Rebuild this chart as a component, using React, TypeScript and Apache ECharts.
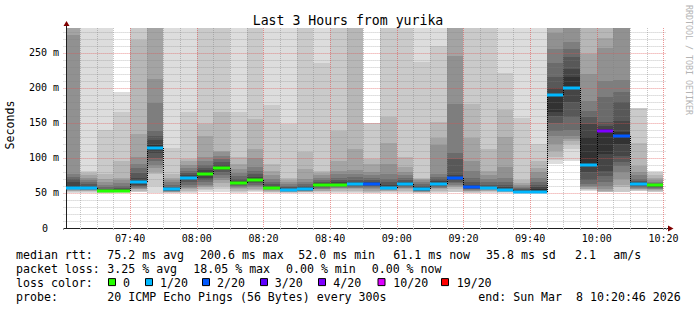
import React, { useEffect, useRef } from 'react';
import * as echarts from 'echarts';

// ---------- data ----------
const TITLE = 'Last 3 Hours from yurika';
const AXIS_START = '07:20';
const VIEW_START = '07:20:46';
const VIEW_END = '10:20:46';
const BIN_MINUTES = 5;
const BIN_TIMES = [
  '07:20', '07:25', '07:30', '07:35', '07:40', '07:45', '07:50', '07:55',
  '08:00', '08:05', '08:10', '08:15', '08:20', '08:25', '08:30', '08:35',
  '08:40', '08:45', '08:50', '08:55', '09:00', '09:05', '09:10', '09:15',
  '09:20', '09:25', '09:30', '09:35', '09:40', '09:45', '09:50', '09:55',
  '10:00', '10:05', '10:10', '10:15',
];
// 20 sorted ping rtts per bin (ms); null = lost ping
const PINGS: (number | null)[][] = [
  [50.5, 51.5, 52.5, 53.5, 54.5, 55.5, 56, 56.5, 57, 57.5, 60, 65, 70, 73, 77, 276, 300, 300, 300, 300],
  [50.5, 51.5, 52.5, 53.5, 54, 54.5, 55, 55.5, 56, 56.5, 57.5, 60, 63, 66, 69, 72, 75, 78, 81, 300],
  [50, 50.5, 50.8, 51, 51.3, 51.6, 51.8, 52, 52.2, 52.5, 53, 54, 56, 58, 61, 65, 70, 77, 140, 300],
  [50.5, 51, 51.5, 52, 52.3, 52.6, 52.8, 53, 53.2, 53.5, 54, 55, 57, 60, 64, 68, 72, 96, 165, 194],
  [51, 52, 53, 55, 56, 57, 58, 60, 62, 64, 67, 72, 78, 85, 92, 101, 134, 268, 300, 300],
  [50, 60, 77, 80, 85, 90, 95, 100, 107, 112, 118, 125, 132, 139, 178, 213, 300, 300, 300, 300],
  [50, 50.5, 51, 51.5, 52, 52.5, 53, 53.5, 54, 54.5, 55.5, 57, 59, 62, 65, 68, 72, 77, 114, 300],
  [50.5, 51.5, 53, 55, 57, 59, 62, 65, 68, 70, 72, 75, 78, 82, 86, 90, 95, 98, 165, 300],
  [51, 54, 56, 58, 60, 62, 65, 68, 72, 76, 80, 83, 86, 90, 95, 101, 132, 148, 300, 300],
  [51, 56, 60, 64, 68, 72, 76, 80, 83, 85, 87, 90, 94, 98, 103, 108, 110, 165, 300, 300],
  [50.5, 51.5, 53, 55, 57, 58.5, 60, 61.5, 62.5, 63.5, 64.5, 67, 70, 74, 78, 84, 92, 101, 165, 300],
  [51, 52.5, 54, 56, 58, 60, 62, 64, 66, 68, 70, 73, 77, 82, 87, 100, 113, 155, 300, 300],
  [50.5, 51, 52, 53, 54, 55, 55.5, 56, 56.5, 57, 58, 60, 63, 66, 70, 75, 82, 91, 176, 300],
  [50, 50.5, 51, 51.5, 52, 52.5, 53, 53.5, 54, 54.5, 55, 56, 58, 60, 63, 66, 69, 72, 148, 300],
  [50.5, 51, 51.5, 52, 52.5, 53, 53.5, 54, 54.5, 55, 56, 58, 60, 63, 66, 70, 84, 109, 300, 300],
  [50.5, 51.5, 52.5, 53.5, 55, 56, 57, 58.5, 60, 61, 62, 64, 66, 69, 72, 76, 79, 82, 235, 300],
  [50.5, 52, 53.5, 55, 56.5, 57.5, 58.5, 59.5, 60.5, 61.5, 63, 65, 68, 72, 77, 82, 96, 138, 300, 300],
  [50.5, 52, 53.5, 55, 56.5, 57.5, 58.5, 59.5, 61, 62, 64, 66, 69, 73, 77, 83, 113, 300, 300, 300],
  [null, 50.5, 52, 53.5, 55, 56.5, 58, 59.5, 61, 62, 64, 66, 68, 71, 75, 80, 91, 99, 150, null],
  [50.5, 51.5, 52.5, 53.5, 54.5, 55, 55.5, 56, 56.5, 57, 58, 61, 65, 70, 77, 92, 121, 159, 300, 300],
  [50.5, 52, 53.5, 55, 56.5, 57.5, 58.5, 59.5, 61, 62, 64, 66, 69, 72, 76, 80, 87, 101, 300, 300],
  [50, 50.5, 51, 51.5, 52, 52.5, 53, 53.5, 54, 55, 56.5, 58, 60, 63, 66, 68, 70, 72, 237, 300],
  [50.5, 52, 53.5, 55, 56.5, 57.5, 58.5, 60, 61, 62, 64, 67, 70, 73, 77, 119, 129, 151, 260, 300],
  [null, 52, 55, 58, 60, 62, 64, 66, 68, 71, 73, 75, 99, 107, 177, 245, 300, 300, 300, null],
  [null, 50.5, 51.5, 52.5, 53.5, 54.5, 55.5, 56, 57, 57.5, 59, 62, 66, 72, 82, 96, 129, 177, 300, null],
  [50.5, 51.5, 52.5, 53.5, 54.5, 55.5, 56, 56.5, 57, 57.5, 58.5, 60, 62, 66, 70, 75, 82, 113, 300, 300],
  [50.5, 51, 51.5, 52, 52.5, 53, 53.5, 54, 54.5, 55, 56, 58, 61, 65, 72, 87, 130, 168, 221, 300],
  [50, 50.5, 51, 51.3, 51.6, 51.8, 52, 52.2, 52.5, 52.8, 53.2, 54, 55, 57, 59, 61, 64, 68, 157, 300],
  [50, 50.3, 50.6, 51, 51.3, 51.6, 51.8, 52, 52.2, 52.5, 55, 58, 62, 66, 72, 80, 86, 96, 120, 300],
  [92, 97, 101, 110, 120, 132, 139, 150, 160, 165, 192, 200, 215, 235, 256, 278, 300, 300, 300, 300],
  [95, 113, 120, 124, 127, 132, 140, 158, 180, 201, 215, 227, 244, 255, 265, 300, 300, 300, 300, 300],
  [53, 54, 55, 56, 58, 60, 63, 68, 80, 89, 130, 148, 158, 167, 182, 220, 249, 300, 300, 300],
  [null, null, 51, 53, 56, 60, 65, 74, 82, 106, 141, 145, 151, 187, 210, 257, 272, 300, null, null],
  [null, 51, 58, 62, 70, 80, 88, 94, 103, 120, 137, 153, 180, 194, 211, 300, 300, 300, 300, null],
  [51, 53, 54, 55, 56, 57, 58.5, 60, 61, 62.5, 64, 65, 67, 70, 75, 80, 89, 122, 171, null],
  [51, 52, 53, 54, 55, 56, 57, 58, 59, 60, 61, 62, 63, 64.5, 66, 68, 71, 75, 78, 82],
];
const MEDIAN = [
  56.7, 56.7, 52.3, 53, 65, 114, 55, 71, 77.6, 85.7, 64, 69, 57, 54.5, 55, 61,
  62, 63, 63, 56.7, 63, 55.7, 63, 72, 58, 57.6, 54.8, 52, 52, 190, 200.6, 90,
  139, 131, 63, 61.1,
];
const LOSS = [
  1, 1, 0, 0, 1, 1, 1, 1, 0, 0, 0, 0, 0, 1, 1, 0,
  0, 1, 2, 1, 1, 1, 1, 2, 2, 1, 1, 1, 1, 1, 1, 1,
  4, 2, 1, 0,
];
const LOSS_LEVELS = [0, 1, 2, 3, 4, 10, 19];
const LOSS_COLORS = ['#26ff00', '#00b8ff', '#0059ff', '#5e00ff', '#7e00ff', '#dd00ff', '#ff0000'];
const LOSS_LABELS = ['0', '1/20', '2/20', '3/20', '4/20', '10/20', '19/20'];
const Y_MAX = 285.7;
const Y_INTERVAL = 50;

const RTT_STATS = ['median rtt:', '75.2 ms avg', '200.6 ms max', '52.0 ms min', '61.1 ms now', '35.8 ms sd', '2.1', 'am/s'];
const LOSS_STATS = ['packet loss:', '3.25 % avg', '18.05 % max', '0.00 % min', '0.00 % now'];
const PROBE_TEXT = ['probe:', '20 ICMP Echo Pings (56 Bytes) every 300s', 'end: Sun Mar  8 10:20:46 2026'];
const WATERMARK = 'RRDTOOL / TOBI OETIKER';

// ---------- layout ----------
const FONT = 'DejaVu Sans Mono';
const PLOT_LEFT = 66;
const PLOT_RIGHT = 666;
const PLOT_TOP = 28;
const PLOT_BOTTOM = 228;

const toMin = (s: string) => {
  const [h, m, sec] = s.split(':').map(Number);
  return h * 60 + m + (sec || 0) / 60;
};
const pad = (n: number) => String(n).padStart(2, '0');
const smokeGray = (ibot: number) => {
  const v = Math.floor((190 / 10) * (10 - ibot)) + 50;
  const h = v.toString(16).padStart(2, '0');
  return '#' + h + h + h;
};
const lossColor = (l: number) => {
  let c = LOSS_COLORS[0];
  LOSS_LEVELS.forEach((lv, i) => { if (l >= lv) c = LOSS_COLORS[i]; });
  return c;
};

export default function App() {
  const ref = useRef<HTMLDivElement>(null);
  useEffect(() => {
    document.body.style.margin = '0';
    const chart = echarts.init(ref.current!, null, { renderer: 'svg' });
    const axisStart = toMin(AXIS_START);
    const viewStart = toMin(VIEW_START);
    const viewEnd = toMin(VIEW_END);
    const pxPerMin = (PLOT_RIGHT - PLOT_LEFT) / (viewEnd - viewStart);
    const gridLeft = PLOT_LEFT - (viewStart - axisStart) * pxPerMin;

    const binData = BIN_TIMES.map((t, i) => [toMin(t), MEDIAN[i]]);

    const clipFor = (params: any, api: any) => {
      const cs = params.coordSys;
      const left = Math.max(cs.x, api.coord([viewStart, 0])[0]);
      return { x: left, y: cs.y, width: cs.x + cs.width - left, height: cs.height };
    };

    const smokeItem = (params: any, api: any) => {
      const i = params.dataIndex;
      const p = PINGS[i];
      const t0 = toMin(BIN_TIMES[i]);
      const t1 = t0 + BIN_MINUTES;
      const clip = clipFor(params, api);
      const children: any[] = [];
      for (let ib = 1; ib <= 10; ib++) {
        const lo = p[ib - 1];
        const hi = p[20 - ib];
        if (lo == null || hi == null) continue;
        const a = api.coord([t0, hi]);
        const b = api.coord([t1, lo]);
        const x0 = Math.round(a[0]);
        const x1 = Math.round(b[0]);
        const y0 = Math.round(a[1]);
        const y1 = Math.round(b[1]);
        const shape = echarts.graphic.clipRectByRect(
          { x: x0, y: y0, width: x1 - x0, height: y1 - y0 },
          clip,
        );
        if (!shape) continue;
        children.push({ type: 'rect', shape, style: { fill: smokeGray(ib) }, z2: ib });
      }
      return { type: 'group', children };
    };

    const medianItem = (params: any, api: any) => {
      const i = params.dataIndex;
      const t0 = toMin(BIN_TIMES[i]);
      const t1 = t0 + BIN_MINUTES;
      const clip = clipFor(params, api);
      const a = api.coord([t0, MEDIAN[i]]);
      const b = api.coord([t1, MEDIAN[i]]);
      const x0 = Math.round(a[0]);
      const x1 = Math.round(b[0]);
      const yc = Math.round(a[1]);
      const children: any[] = [];
      if (i > 0) {
        const prev = api.coord([t0, MEDIAN[i - 1]]);
        children.push({
          type: 'line',
          shape: { x1: x0 + 0.5, y1: Math.round(prev[1]), x2: x0 + 0.5, y2: yc },
          style: { stroke: '#000', lineWidth: 1, lineDash: [1, 1] },
          z2: 1,
        });
      }
      const shape = echarts.graphic.clipRectByRect(
        { x: x0, y: yc - 1.5, width: x1 - x0, height: 3 },
        clip,
      );
      if (shape) {
        children.push({ type: 'rect', shape, style: { fill: lossColor(LOSS[i]) }, z2: 2 });
      }
      return { type: 'group', children };
    };

    const txt = (text: string, x: number, y: number, extra: any = {}) => ({
      type: 'text',
      x,
      y,
      style: {
        text,
        fill: '#000',
        font: `11.6px "${FONT}"`,
        textAlign: 'left',
        textVerticalAlign: 'middle',
        ...extra,
      },
    });

    const rttX = [16, 107.3, 200, 298.3, 393.3, 486, 575, 613.3];
    const lossX = [16, 107.3, 193.3, 286, 371.7];
    const probeX = [16, 107.3, 478.3];
    const boxX = [108.5, 145.5, 202.5, 260.5, 318.5, 378, 441.5];
    const boxLabelX = [123, 160, 217, 274.7, 333.3, 393.3, 456.7];
    const rows = [254.8, 268.7, 282.6, 296.5];

    const graphics: any[] = [
      txt(TITLE, 348, 20, { textAlign: 'center', font: `13.2px "${FONT}"` }),
      {
        type: 'text', x: 10, y: 125, rotation: Math.PI / 2,
        style: { text: 'Seconds', fill: '#000', font: `11.6px "${FONT}"`, textAlign: 'center', textVerticalAlign: 'middle' },
      },
      {
        type: 'text', x: 688.5, y: 5, rotation: -Math.PI / 2,
        style: { text: WATERMARK, fill: '#b4b4b4', font: `8.3px "${FONT}"`, textAlign: 'left', textVerticalAlign: 'middle' },
      },
      // axis extensions and arrows
      { type: 'line', shape: { x1: 66.5, y1: 24, x2: 66.5, y2: 28 }, style: { stroke: '#1f1f1f', lineWidth: 1 } },
      { type: 'polygon', shape: { points: [[63.5, 26], [69.5, 26], [66.5, 21]] }, style: { fill: '#800000' } },
      { type: 'line', shape: { x1: 666, y1: 228.5, x2: 670, y2: 228.5 }, style: { stroke: '#1f1f1f', lineWidth: 1 } },
      { type: 'polygon', shape: { points: [[668, 225.5], [668, 231.5], [673.5, 228.5]] }, style: { fill: '#800000' } },
    ];
    RTT_STATS.forEach((s, i) => graphics.push(txt(s, rttX[i], rows[0])));
    LOSS_STATS.forEach((s, i) => graphics.push(txt(s, lossX[i], rows[1])));
    graphics.push(txt('loss color:', 16, rows[2]));
    LOSS_LABELS.forEach((s, i) => {
      graphics.push({
        type: 'rect',
        shape: { x: boxX[i], y: rows[2] - 4, width: 7, height: 7 },
        style: { fill: LOSS_COLORS[i], stroke: '#000', lineWidth: 1 },
      });
      graphics.push(txt(s, boxLabelX[i], rows[2]));
    });
    PROBE_TEXT.forEach((s, i) => graphics.push(txt(s, probeX[i], rows[3])));

    const minorGrid = { color: 'rgba(128,128,128,0.45)', width: 1, type: [1, 1] as any };
    const majorGrid = { color: 'rgba(224,80,80,0.6)', width: 1, type: [1, 1] as any };

    chart.setOption({
      animation: false,
      backgroundColor: '#fff',
      grid: {
        left: gridLeft,
        right: 697 - PLOT_RIGHT,
        top: PLOT_TOP,
        bottom: 310 - PLOT_BOTTOM,
        containLabel: false,
      },
      xAxis: {
        type: 'value',
        min: axisStart,
        max: viewEnd,
        interval: 20,
        z: 3,
        axisLine: { show: true, lineStyle: { color: '#1f1f1f', width: 1 } },
        axisTick: { show: true, length: 2, lineStyle: { color: '#999' } },
        minorTick: { show: true, splitNumber: 4, length: 2, lineStyle: { color: '#bbb' } },
        splitLine: { show: true, showMinLine: false, showMaxLine: false, lineStyle: majorGrid },
        minorSplitLine: { show: true, lineStyle: minorGrid },
        axisLabel: {
          showMinLabel: false,
          showMaxLabel: false,
          margin: 5,
          color: '#000',
          fontFamily: FONT,
          fontSize: 10,
          formatter: (v: number) => `${pad(Math.floor(v / 60))}:${pad(Math.round(v % 60))}`,
        },
      },
      yAxis: {
        type: 'value',
        min: 0,
        max: Y_MAX,
        interval: Y_INTERVAL,
        offset: -(PLOT_LEFT - gridLeft),
        z: 3,
        axisLine: { show: true, lineStyle: { color: '#1f1f1f', width: 1 } },
        axisTick: { show: false },
        minorTick: { show: false, splitNumber: 5 },
        splitLine: { show: true, showMaxLine: false, lineStyle: majorGrid },
        minorSplitLine: { show: true, lineStyle: minorGrid },
        axisLabel: {
          showMaxLabel: false,
          margin: 7,
          color: '#000',
          fontFamily: FONT,
          fontSize: 10,
          formatter: (v: number) => (v === 0 ? '{z|0}' : `${v} m`),
          rich: { z: { padding: [0, 11, 0, 0], fontFamily: FONT, fontSize: 10, color: '#000' } },
        },
      },
      series: [
        {
          type: 'custom',
          name: 'smoke',
          z: 2,
          data: binData,
          encode: { x: 0, y: 1 },
          renderItem: smokeItem,
          silent: true,
        },
        {
          type: 'custom',
          name: 'median',
          z: 4,
          data: binData,
          encode: { x: 0, y: 1 },
          renderItem: medianItem,
          silent: true,
        },
      ],
      graphic: graphics,
    });
    return () => chart.dispose();
  }, []);
  return <div ref={ref} style={{ position: 'absolute', left: 0, top: 0, width: 697, height: 310 }} />;
}
